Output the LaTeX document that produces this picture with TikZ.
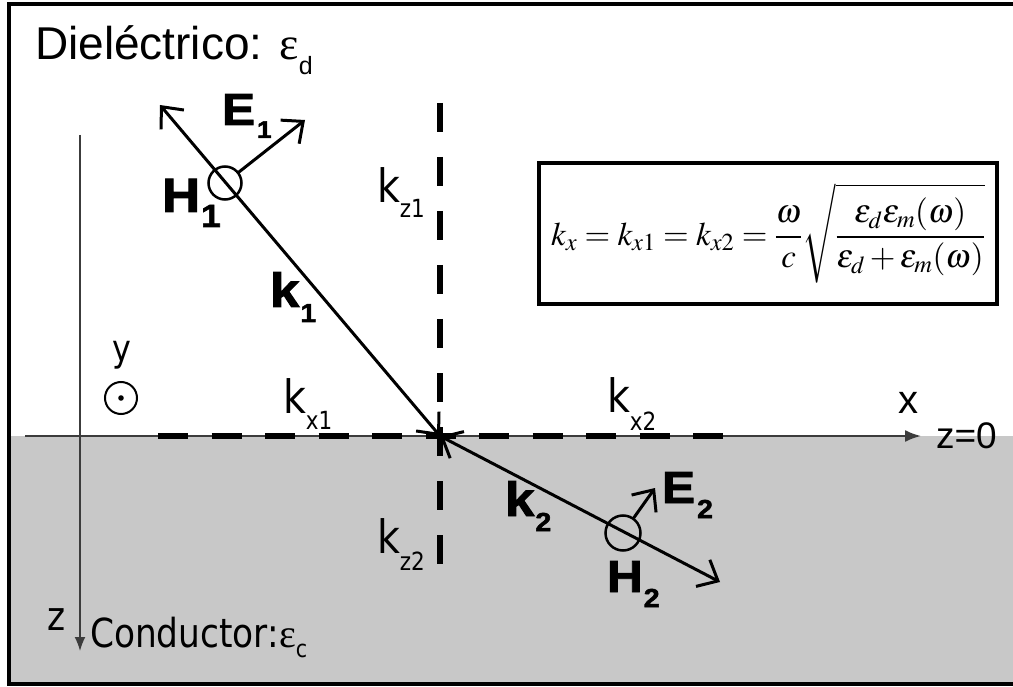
\documentclass[tikz,border=0pt]{standalone}
\usepackage{mathptmx}
\usepackage[no-math]{fontspec}
\setmainfont{Liberation Sans}
\newfontfamily\dvs{DejaVu Sans}[FakeStretch=0.86]
\newfontfamily\tms{Liberation Serif}
\newfontfamily\blk{Liberation Sans Bold}[FakeBold=2, FakeStretch=1.1]
\usetikzlibrary{arrows.meta}
\newcommand{\fs}[1]{\fontsize{#1}{#1}\selectfont}
\newcommand{\lowsub}[3]{\raisebox{-#1pt}{\fs{#2}#3}}
\definecolor{cond}{RGB}{200,200,200}
\definecolor{axc}{RGB}{60,60,60}
\tikzset{
  lbl/.style={inner sep=0pt, outer sep=0pt, anchor=base west},
  vecline/.style={line width=3pt, line cap=round},
  barb/.style={-{Straight Barb[length=17pt,width=30pt]}},
  dbarb/.style={{Straight Barb[length=17pt,width=30pt]}-{Straight Barb[length=17pt,width=30pt]}},
  dashline/.style={line width=6pt},
  axis/.style={draw=axc, line width=2pt},
  hcirc/.style={circle, draw, line width=2.5pt, minimum size=33pt, inner sep=0pt},
}
\begin{document}
\begin{tikzpicture}[x=1pt,y=-1pt]
\useasboundingbox (0,0) rectangle (1013,687);
% regions and frame
\fill[white] (0,0) rectangle (1013,687);
\fill[cond] (9,436) rectangle (1013,684);
\draw[line width=4pt] (9,4) rectangle (1020,684);

% coordinates
\coordinate (O) at (440,436);
\coordinate (xs) at (25,436);
\coordinate (xe) at (921,436);
\coordinate (zs) at (80,135);
\coordinate (ze) at (80,651);
\coordinate (hds) at (158,436);
\coordinate (hde) at (723,436);
\coordinate (vds) at (440,103);
\coordinate (vde) at (440,565);
\coordinate (k1t) at (160,105);
\coordinate (k2t) at (720,582);
\coordinate (e1t) at (305,120);
\coordinate (e2t) at (655,488);

% axes
\draw[axis, -{Latex[length=16pt,width=12pt]}] (xs) -- (xe);
\draw[axis, line width=1.6pt, -{Latex[length=14pt,width=11pt]}] (zs) -- (ze);

% dashed components
\draw[dashline, dash pattern=on 30pt off 23.5pt] (hds) -- (hde);
\draw[dashline, dash pattern=on 29pt off 25pt] (vds) -- (vde);

% wave vectors
\draw[vecline, dbarb] (k1t) -- (O);
\draw[vecline, dbarb] (O) -- (k2t);

% field symbols
\node[hcirc] (h1) at (225,183) {};
\node[hcirc, minimum size=35pt] (h2) at (623,533) {};
\draw[vecline, barb] (h1) -- (e1t);
\draw[vecline, barb] (h2) -- (e2t);
\node[circle, draw, line width=2pt, minimum size=32pt, inner sep=0pt] (ysym) at (121,398) {};
\fill (ysym.center) circle (2.8pt);

% labels
\node[lbl] (title) at (35,60) {\fs{46}Dieléctrico: {\tms ε}\lowsub{15}{25}{d}};
\node[lbl] (E1) at (222,125) {\blk\fs{45}E\kern2pt\lowsub{13}{24}{1}};
\node[lbl] (H1) at (162,212) {\blk\fs{48}H\kern1pt\lowsub{15}{32}{1}};
\node[lbl] (K1) at (270,307) {\blk\fs{48}k\kern1pt\lowsub{15}{26}{1}};
\node[lbl] (E2) at (662,503) {\blk\fs{45}E\kern2pt\lowsub{15}{26}{2}};
\node[lbl] (H2) at (607,592) {\blk\fs{45}H\kern1pt\lowsub{15}{26}{2}};
\node[lbl] (K2) at (505,516) {\blk\fs{48}k\kern1pt\lowsub{15}{26}{2}};
\node[lbl] (kz1) at (377,203) {\dvs\fs{46}k\lowsub{15}{25}{z1}};
\node[lbl] (kx1) at (283,413) {\dvs\fs{46}k\lowsub{17}{25}{x1}};
\node[lbl] (kx2) at (607,412) {\dvs\fs{46}k\lowsub{18}{25}{x2}};
\node[lbl] (kz2) at (377,553) {\dvs\fs{46}k\lowsub{17}{25}{z2}};
\node[lbl] (xl) at (898,413) {\fs{40}x};
\node[lbl] (z0) at (936,448) {\fs{37}z=0};
\node[lbl] (yl) at (112,362) {\dvs\fs{37}y};
\node[lbl] (zl) at (47,630) {\dvs\fs{40}z};
\node[lbl] (cond) at (90,647) {\dvs\fs{40}Conductor:{\tms ε}\lowsub{10}{24}{c}};

% formula box
\node[draw, line width=3.5pt, fill=white, minimum width=458pt, minimum height=141pt, inner sep=0pt] (eq) at (768,233.5)
  {\fs{33}$\displaystyle k_x=k_{x1}=k_{x2}=\frac{\omega}{c}\sqrt{\frac{\varepsilon_d\varepsilon_m(\omega)}{\varepsilon_d+\varepsilon_m(\omega)}}$};
\end{tikzpicture}
\end{document}
